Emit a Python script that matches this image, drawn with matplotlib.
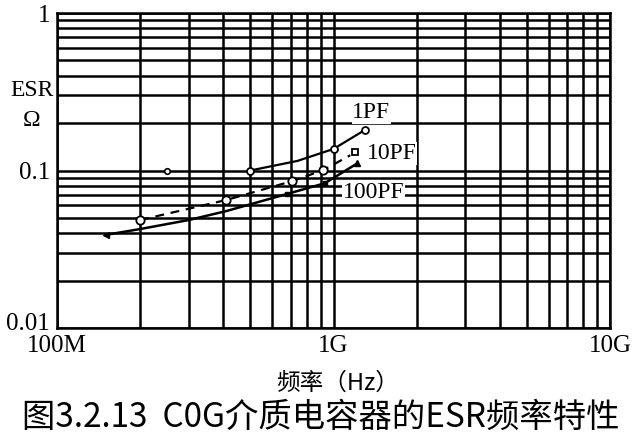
import numpy as np
import matplotlib
matplotlib.use("Agg")
import matplotlib.pyplot as plt
import matplotlib.transforms as mtransforms
from matplotlib.ticker import FixedLocator, NullFormatter

# ESR vs frequency for C0G capacitors
f_1pf = [5.0e8, 7.4e8, 1.0e9, 1.3e9]
esr_1pf = [0.100, 0.115, 0.137, 0.181]

f_10pf = [2.0e8, 4.1e8, 7.1e8, 9.2e8, 1.15e9]
esr_10pf = [0.0485, 0.065, 0.0857, 0.1007, 0.125]
f_10pf_end = [1.2e9]
esr_10pf_end = [0.131]

f_100pf = [1.5e8, 2.0e8, 3.0e8, 4.1e8, 6.8e8, 9.3e8, 1.22e9]
esr_100pf = [0.039, 0.0425, 0.0485, 0.0553, 0.071, 0.083, 0.111]

f_extra = [2.5e8]
esr_extra = [0.1]

x_ticks = [1e8, 1e9, 1e10]
x_labels = ["100M", "1G", "10G"]
y_ticks = [0.01, 0.1, 1]
y_labels = ["0.01", "0.1", "1"]

serif = ["Liberation Serif", "DejaVu Serif"]
cjk = ["Noto Sans CJK SC", "DejaVu Sans"]

fig = plt.figure(figsize=(6.4, 4.41), dpi=100)
ax = fig.add_axes([57 / 640, 1 - 328 / 441, 553 / 640, 315 / 441])
ax.set_xscale("log")
ax.set_yscale("log")
ax.set_xlim(1e8, 1e10)
ax.set_ylim(0.01, 1)

ax.xaxis.set_major_locator(FixedLocator(x_ticks))
ax.yaxis.set_major_locator(FixedLocator(y_ticks))
ax.xaxis.set_minor_locator(FixedLocator(
    [m * d for d in (1e8, 1e9) for m in range(2, 10)]))
ax.yaxis.set_minor_locator(FixedLocator(
    [m * d for d in (0.01, 0.1) for m in range(2, 10)]))
ax.xaxis.set_minor_formatter(NullFormatter())
ax.yaxis.set_minor_formatter(NullFormatter())
ax.set_xticklabels(x_labels, family=serif, fontsize=18)
ax.set_yticklabels(y_labels, family=serif, fontsize=18)
ax.tick_params(which="both", length=0, pad=5)
ax.grid(which="both", color="black", linewidth=1.8)
for s in ax.spines.values():
    s.set_linewidth(1.8)

# nudge the lowest y label up, as in the reference
lbl = ax.get_yticklabels()[0]
lbl.set_transform(lbl.get_transform() +
                  mtransforms.ScaledTranslation(0, 7 / 100, fig.dpi_scale_trans))

# curves
ax.plot(f_1pf, esr_1pf, color="black", lw=1.6, marker="o", ms=5,
        mfc="white", mec="black", mew=1.3, markevery=[0, 2, 3])
ax.plot(f_10pf, esr_10pf, color="black", lw=1.6, ls=(0, (4, 3)),
        marker="o", ms=6, mfc="white", mec="black", mew=1.3,
        markevery=[0, 1, 2, 3])
ax.plot(f_10pf_end, esr_10pf_end, ls="none", marker="s", ms=5,
        mfc="white", mec="black", mew=1.3)
ax.plot(f_100pf, esr_100pf, color="black", lw=1.8)
ax.plot(f_100pf[:1], esr_100pf[:1], ls="none", marker="<", ms=5,
        color="black")
ax.plot(f_100pf[-1:], esr_100pf[-1:], ls="none", marker="^", ms=5,
        color="black")
ax.plot(f_100pf[4:6], esr_100pf[4:6], ls="none", marker="s", ms=3,
        color="black")
ax.plot(f_extra, esr_extra, ls="none", marker="o", ms=4,
        mfc="white", mec="black", mew=1.2)

# curve labels
ax.text(1.17e9, 0.232, "1PF", family=serif, fontsize=17, va="center",
        bbox=dict(fc="white", ec="none", pad=0.5))
ax.text(1.32e9, 0.128, "10PF", family=serif, fontsize=17, va="center",
        bbox=dict(fc="white", ec="none", pad=0.5))
ax.text(1.08e9, 0.073, "100PF", family=serif, fontsize=17, va="center",
        bbox=dict(fc="white", ec="none", pad=0.5))

fig.text(32 / 640, 1 - 90 / 441, "ESR", family=serif, fontsize=17,
         ha="center", va="center")
fig.text(32 / 640, 1 - 121 / 441, "Ω", family=serif, fontsize=17,
         ha="center", va="center")

fig.text(338 / 640, 1 - 383 / 441, "频率（Hz）", family=cjk, fontsize=17,
         ha="center", va="center")
fig.text(321 / 640, 1 - 417 / 441, "图3.2.13  C0G介质电容器的ESR频率特性",
         family=cjk, fontsize=24, ha="center", va="center")

fig.savefig("out.png", dpi=100)
